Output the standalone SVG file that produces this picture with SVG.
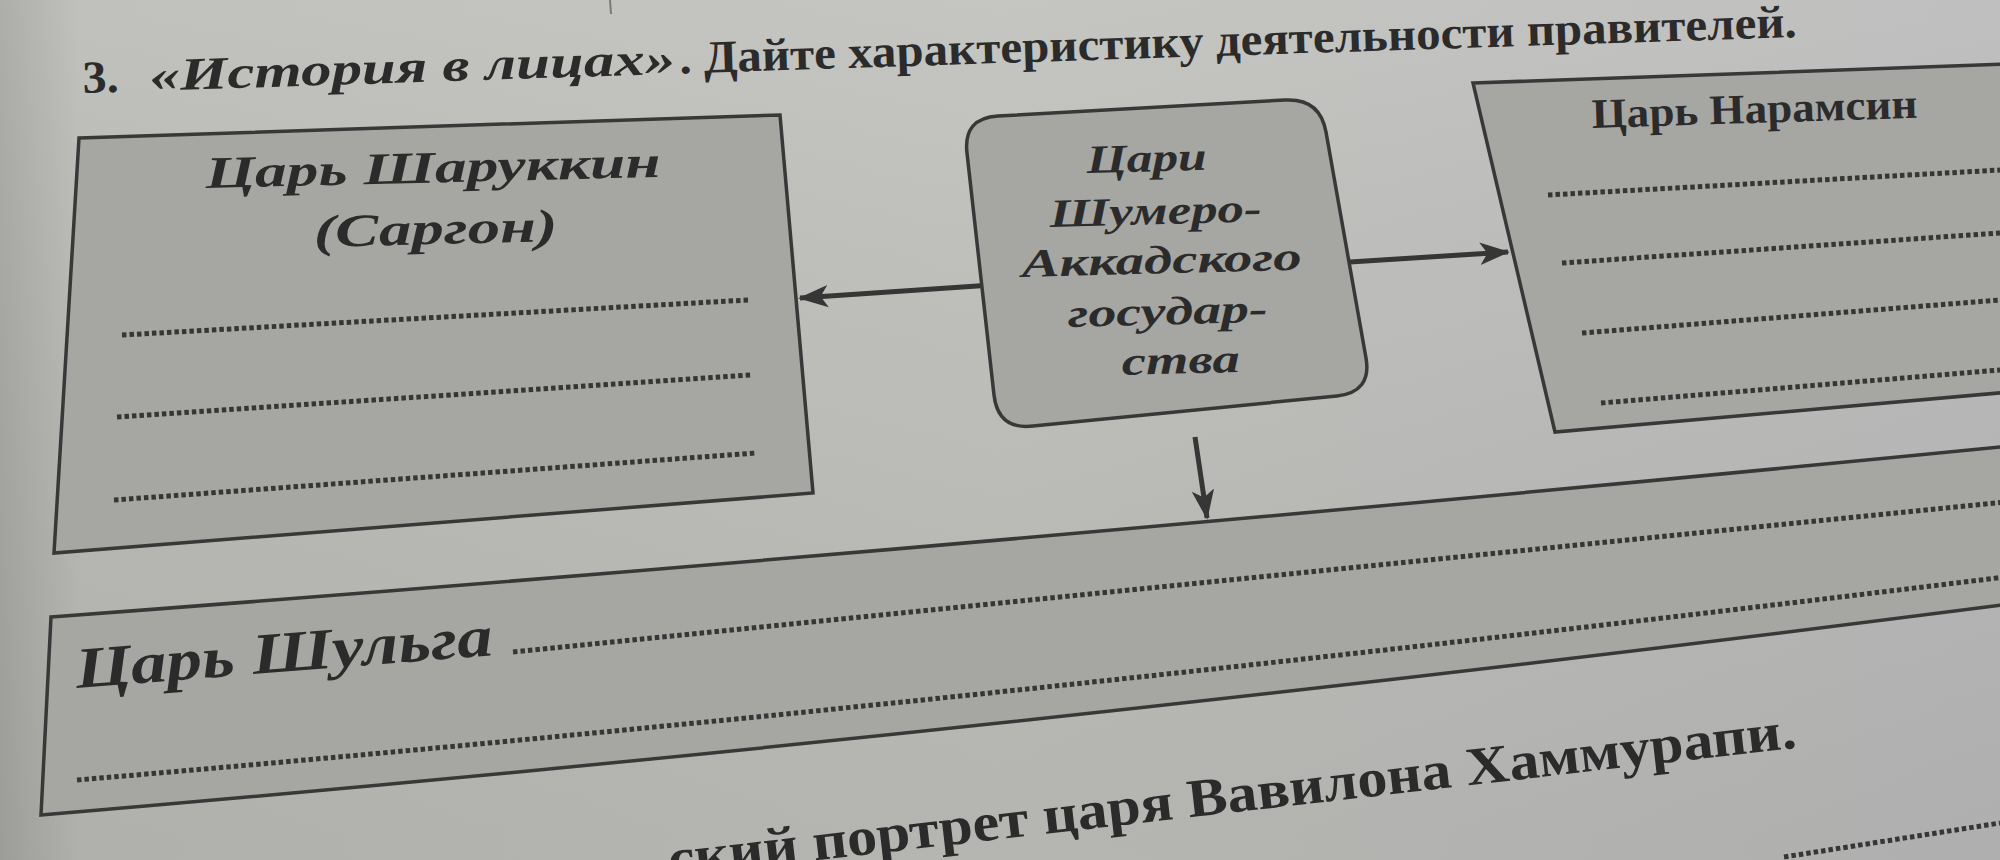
<svg xmlns="http://www.w3.org/2000/svg" width="2000" height="860" viewBox="0 0 2000 860">
  <defs>
    <linearGradient id="paper" x1="0" y1="0" x2="1" y2="0">
      <stop offset="0" stop-color="#a6a6a2"/>
      <stop offset="0.04" stop-color="#bbbbb7"/>
      <stop offset="0.5" stop-color="#c0c0bc"/>
      <stop offset="1" stop-color="#bababa"/>
    </linearGradient>
    <linearGradient id="shade" x1="0" y1="0" x2="0" y2="1">
      <stop offset="0" stop-color="#ffffff" stop-opacity="0.08"/>
      <stop offset="1" stop-color="#000000" stop-opacity="0.06"/>
    </linearGradient>
    <marker id="arr" viewBox="0 0 16 12" refX="15" refY="6" markerWidth="6" markerHeight="4.8" markerUnits="strokeWidth" orient="auto">
      <path d="M0,0 L16,6 L0,12 L4,6 Z" fill="#363636"/>
    </marker>
    <style>
      .box { fill: #a6a6a3; stroke: #383838; stroke-width: 3.5; }
      .dots { fill: none; stroke: #363636; stroke-width: 5; stroke-dasharray: 4.5 3; }
      .conn { fill: none; stroke: #363636; stroke-width: 5; marker-end: url(#arr); }
      .t { font-family: "Liberation Serif", "DejaVu Serif", serif; fill: #2b2b2b; font-weight: bold; }
      .it { font-style: italic; }
    </style>
  </defs>

  <rect width="2000" height="860" fill="url(#paper)"/>
  <rect width="2000" height="860" fill="url(#shade)"/>
  <line x1="610" y1="0" x2="611" y2="14" stroke="#7a7a78" stroke-width="2"/>

  <g id="title">
    <text class="t" font-size="46" transform="rotate(-1.87 83 93)">
      <tspan x="83" y="93" textLength="36" lengthAdjust="spacingAndGlyphs">3.</tspan>
      <tspan class="it" x="150" y="93" textLength="526" lengthAdjust="spacingAndGlyphs">«История в лицах»</tspan>
      <tspan x="680" y="93" textLength="1118" lengthAdjust="spacingAndGlyphs">. Дайте характеристику деятельности правителей.</tspan>
    </text>
  </g>

  <g id="connectors">
    <line class="conn" x1="992" y1="285" x2="800" y2="298"/>
    <line class="conn" x1="1350" y1="262" x2="1508" y2="252"/>
    <line class="conn" x1="1195" y1="437" x2="1207" y2="518"/>
  </g>

  <g id="sargon">
    <path class="box" d="M79,138 L780,115 L813,493 L54,553 Z"/>
    <text class="t it" font-size="45" x="206" y="188" textLength="455" lengthAdjust="spacingAndGlyphs" transform="rotate(-1.4 206 188)">Царь Шаруккин</text>
    <text class="t it" font-size="46" x="314" y="247" textLength="244" lengthAdjust="spacingAndGlyphs" transform="rotate(-1.4 314 247)">(Саргон)</text>
    <line class="dots" x1="122" y1="335" x2="748" y2="300"/>
    <line class="dots" x1="117" y1="417" x2="751" y2="375"/>
    <line class="dots" x1="114" y1="500" x2="756" y2="453"/>
  </g>

  <g id="kings">
    <path class="box" d="M998,116 L1285,100 Q1320,98 1326,132 L1366,358 Q1372,392 1337,396 L1033,426 Q998,430 994,395 L967,153 Q963,118 998,116 Z"/>
    <text class="t it" font-size="40" x="1087" y="173" textLength="120" lengthAdjust="spacingAndGlyphs" transform="rotate(-1.5 1087 173)">Цари</text>
    <text class="t it" font-size="40" x="1050" y="227" textLength="212" lengthAdjust="spacingAndGlyphs" transform="rotate(-1.5 1050 227)">Шумеро-</text>
    <text class="t it" font-size="40" x="1022" y="277" textLength="280" lengthAdjust="spacingAndGlyphs" transform="rotate(-1.5 1022 277)">Аккадского</text>
    <text class="t it" font-size="40" x="1068" y="327" textLength="200" lengthAdjust="spacingAndGlyphs" transform="rotate(-1.5 1068 327)">государ-</text>
    <text class="t it" font-size="40" x="1122" y="375" textLength="118" lengthAdjust="spacingAndGlyphs" transform="rotate(-1.5 1122 375)">ства</text>
  </g>

  <g id="naramsin">
    <path class="box" d="M1473,83 L2010,64 L2010,392 L1555,432 Z"/>
    <text class="t" font-size="42" x="1592" y="128" textLength="326" lengthAdjust="spacingAndGlyphs" transform="rotate(-1.8 1592 128)">Царь Нарамсин</text>
    <line class="dots" x1="1548" y1="195" x2="2000" y2="170"/>
    <line class="dots" x1="1562" y1="263" x2="2000" y2="233"/>
    <line class="dots" x1="1582" y1="333" x2="2000" y2="300"/>
    <line class="dots" x1="1601" y1="403" x2="2000" y2="370"/>
  </g>

  <g id="shulga">
    <path class="box" d="M51,617 Q974,548 2010,446 L2010,604 Q979,736 41,815 Z"/>
    <text class="t it" font-size="58" x="77" y="688" textLength="418" lengthAdjust="spacingAndGlyphs" transform="rotate(-4.5 77 688)">Царь Шульга</text>
    <path class="dots" d="M513,652 L2005,502"/>
    <path class="dots" d="M77,780 Q961,705 2005,577"/>
  </g>

  <g id="next-task">
    <text class="t" font-size="54" x="670" y="877" textLength="1135" lengthAdjust="spacingAndGlyphs" transform="rotate(-6.55 670 877)">ский портрет царя Вавилона Хаммурапи.</text>
    <line class="dots" x1="1784" y1="857" x2="2000" y2="823"/>
  </g>
</svg>
